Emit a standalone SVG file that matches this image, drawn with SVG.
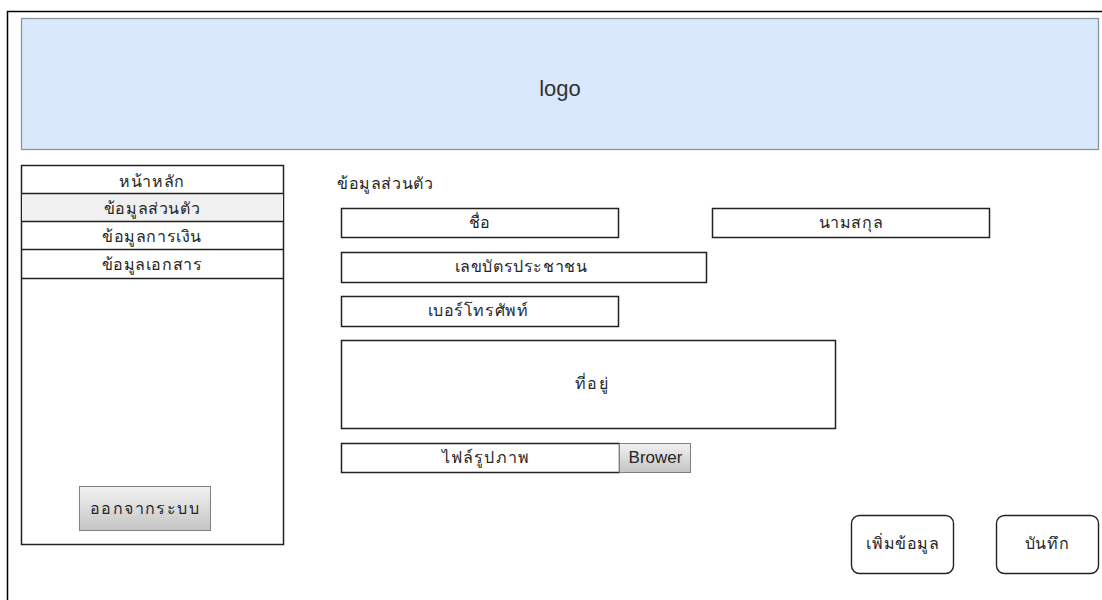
<svg xmlns="http://www.w3.org/2000/svg" width="1102" height="600" viewBox="0 0 1102 600">
<defs>
<linearGradient id="gbtn" x1="0" y1="0" x2="0" y2="1">
<stop offset="0" stop-color="#f2f2f2"/>
<stop offset="1" stop-color="#c4c4c4"/>
</linearGradient>
<style>
text{font-family:"Noto Sans","Liberation Sans",sans-serif;font-size:16px;letter-spacing:0.6px;fill:#262626;text-anchor:middle;dominant-baseline:central}
.lat{font-family:"Liberation Sans",Arial,sans-serif;letter-spacing:0;dominant-baseline:auto}
.box{fill:#fff;stroke:#222;stroke-width:1.5}
.btn{fill:url(#gbtn);stroke:#808080;stroke-width:1}
.rbtn{fill:#fff;stroke:#222;stroke-width:1.4}
</style>
</defs>
<rect width="1102" height="600" fill="#fff"/>
<g id="frame"><path d="M7.5 600 V11.5 H1102" fill="none" stroke="#000" stroke-width="1.5"/></g>
<g id="logo"><rect x="21.5" y="18.5" width="1077" height="131" fill="#dae8fc" stroke="#8a96a3" stroke-width="1.3"/><text class="lat" x="560" y="96" style="font-size:22px;fill:#333">logo</text></g>
<g id="menu">
<rect class="box" x="21.5" y="165.5" width="262" height="379"/>
<rect x="22" y="193" width="261" height="28" fill="#f0f0f0"/>
<path d="M21.5 193.5H283.5M21.5 221.5H283.5M21.5 249.5H283.5M21.5 278.5H283.5" stroke="#222" stroke-width="1.5"/>
<text x="152" y="181">หน้าหลัก</text>
<text x="152" y="208">ข้อมูลส่วนตัว</text>
<text x="152" y="236">ข้อมูลการเงิน</text>
<text x="152" y="264">ข้อมูลเอกสาร</text>
</g>
<g id="logout"><rect class="btn" x="79.5" y="486.5" width="131" height="44"/><text x="145" y="508" style="letter-spacing:1.4px">ออกจากระบบ</text></g>
<g id="title"><text x="337" y="183" style="text-anchor:start">ข้อมูลส่วนตัว</text></g>
<g id="name"><rect class="box" x="341.5" y="208.5" width="277" height="29"/><text x="480" y="222">ชื่อ</text></g>
<g id="surname"><rect class="box" x="712.5" y="208.5" width="277" height="29"/><text x="851" y="222">นามสกุล</text></g>
<g id="idcard"><rect class="box" x="341.5" y="252.5" width="365" height="30"/><text x="521" y="266">เลขบัตรประชาชน</text></g>
<g id="phone"><rect class="box" x="341.5" y="296.5" width="277" height="30"/><text x="478" y="310">เบอร์โทรศัพท์</text></g>
<g id="address"><rect class="box" x="341.5" y="340.5" width="494" height="88"/><text x="592" y="383" style="letter-spacing:1.5px">ที่อยู่</text></g>
<g id="file"><rect class="box" x="341.5" y="443.5" width="278" height="29"/><text x="486" y="457" style="letter-spacing:1.2px">ไฟล์รูปภาพ</text>
<rect class="btn" x="619.5" y="443.5" width="71" height="29"/><text class="lat" x="655.5" y="463" style="font-size:17px">Brower</text></g>
<g id="add"><rect class="rbtn" x="851.5" y="515.5" width="102" height="58" rx="8"/><text x="903" y="543">เพิ่มข้อมูล</text></g>
<g id="save"><rect class="rbtn" x="996.5" y="515.5" width="102" height="58" rx="8"/><text x="1047" y="543">บันทึก</text></g>
<g id="connectors"/>
</svg>
